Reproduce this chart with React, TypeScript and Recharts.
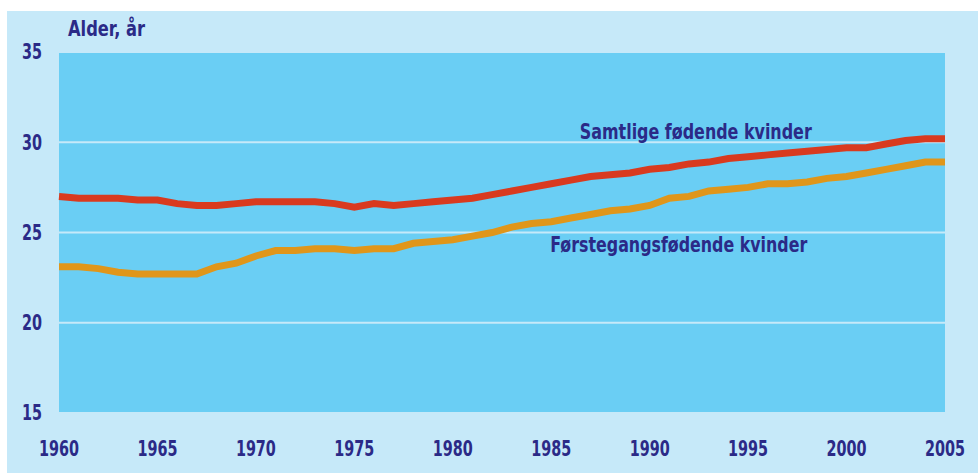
import { LineChart, Line, XAxis, YAxis, CartesianGrid, ReferenceDot, Label } from "recharts";

const years = [
  1960, 1961, 1962, 1963, 1964, 1965, 1966, 1967, 1968, 1969,
  1970, 1971, 1972, 1973, 1974, 1975, 1976, 1977, 1978, 1979,
  1980, 1981, 1982, 1983, 1984, 1985, 1986, 1987, 1988, 1989,
  1990, 1991, 1992, 1993, 1994, 1995, 1996, 1997, 1998, 1999,
  2000, 2001, 2002, 2003, 2004, 2005,
];

// Samtlige fødende kvinder
const allMothers = [
  27.0, 26.9, 26.9, 26.9, 26.8, 26.8, 26.6, 26.5, 26.5, 26.6,
  26.7, 26.7, 26.7, 26.7, 26.6, 26.4, 26.6, 26.5, 26.6, 26.7,
  26.8, 26.9, 27.1, 27.3, 27.5, 27.7, 27.9, 28.1, 28.2, 28.3,
  28.5, 28.6, 28.8, 28.9, 29.1, 29.2, 29.3, 29.4, 29.5, 29.6,
  29.7, 29.7, 29.9, 30.1, 30.2, 30.2,
];

// Førstegangsfødende kvinder
const firstTime = [
  23.1, 23.1, 23.0, 22.8, 22.7, 22.7, 22.7, 22.7, 23.1, 23.3,
  23.7, 24.0, 24.0, 24.1, 24.1, 24.0, 24.1, 24.1, 24.4, 24.5,
  24.6, 24.8, 25.0, 25.3, 25.5, 25.6, 25.8, 26.0, 26.2, 26.3,
  26.5, 26.9, 27.0, 27.3, 27.4, 27.5, 27.7, 27.7, 27.8, 28.0,
  28.1, 28.3, 28.5, 28.7, 28.9, 28.9,
];

const xTicks = [1960, 1965, 1970, 1975, 1980, 1985, 1990, 1995, 2000, 2005];
const yTicks = [15, 20, 25, 30, 35];

const data = years.map((year, i) => ({ year, all: allMothers[i], first: firstTime[i] }));

const navy = "#2b2a87";
const font = "'DejaVu Sans Condensed', 'DejaVu Sans', sans-serif";

// the original uses a narrow bold face, so squeeze text to its measured width
const txt = { fill: navy, fontFamily: font, fontWeight: 700, fontSize: 21 };

const XTick = (props: any) => {
  const label = String(props.payload.value);
  return (
    <text x={props.x} y={props.y} dy="0.71em" textAnchor="middle" textLength={label.length * 10} lengthAdjust="spacingAndGlyphs" {...txt}>
      {label}
    </text>
  );
};

const YTick = (props: any) => {
  const label = String(props.payload.value);
  return (
    <text x={props.x} y={props.y} dy="0.355em" textAnchor="end" textLength={label.length * 10} lengthAdjust="spacingAndGlyphs" {...txt}>
      {label}
    </text>
  );
};

const seriesLabel = (text: string, width: number) => (props: any) => {
  const { x, y } = props.viewBox;
  return (
    <text x={x} y={y} dy="0.355em" textLength={width} lengthAdjust="spacingAndGlyphs" {...txt}>
      {text}
    </text>
  );
};

export default function App() {
  return (
    <div style={{ position: "absolute", left: 0, top: 0, width: 978, height: 473, background: "#ffffff" }}>
      <div style={{ position: "absolute", left: 7, top: 11, width: 971, height: 462, background: "#c6e9f9" }}>
        <LineChart width={971} height={462} data={data} margin={{ top: 41, right: 33, left: 0, bottom: 0 }}>
          <CartesianGrid horizontal vertical={false} fill="#6acef4" stroke="#c6e9f9" strokeWidth={2} fillOpacity={1} />
          <XAxis
            dataKey="year"
            type="number"
            domain={[1960, 2005]}
            ticks={xTicks}
            axisLine={false}
            tickLine={false}
            tickSize={0}
            tickMargin={28}
            height={60}
            tick={<XTick />}
            interval={0}
          />
          <YAxis
            domain={[15, 35]}
            ticks={yTicks}
            axisLine={false}
            tickLine={false}
            tickSize={0}
            tickMargin={17}
            width={52}
            tick={<YTick />}
            interval={0}
          >
            <Label
              content={(props: any) => (
                <text x={props.viewBox.x + 61} y={props.viewBox.y - 23} dy="0.355em" textLength={77} lengthAdjust="spacingAndGlyphs" {...txt}>
                  Alder, år
                </text>
              )}
            />
          </YAxis>
          <Line dataKey="all" stroke="#d93a1f" strokeWidth={7} dot={false} activeDot={false} isAnimationActive={false} />
          <Line dataKey="first" stroke="#e0961a" strokeWidth={7} dot={false} activeDot={false} isAnimationActive={false} />
          <ReferenceDot x={1986.45} y={30.57} r={0} stroke="none" fill="none" label={seriesLabel("Samtlige fødende kvinder", 232)} />
          <ReferenceDot x={1984.95} y={24.31} r={0} stroke="none" fill="none" label={seriesLabel("Førstegangsfødende kvinder", 257)} />
        </LineChart>
      </div>
    </div>
  );
}
